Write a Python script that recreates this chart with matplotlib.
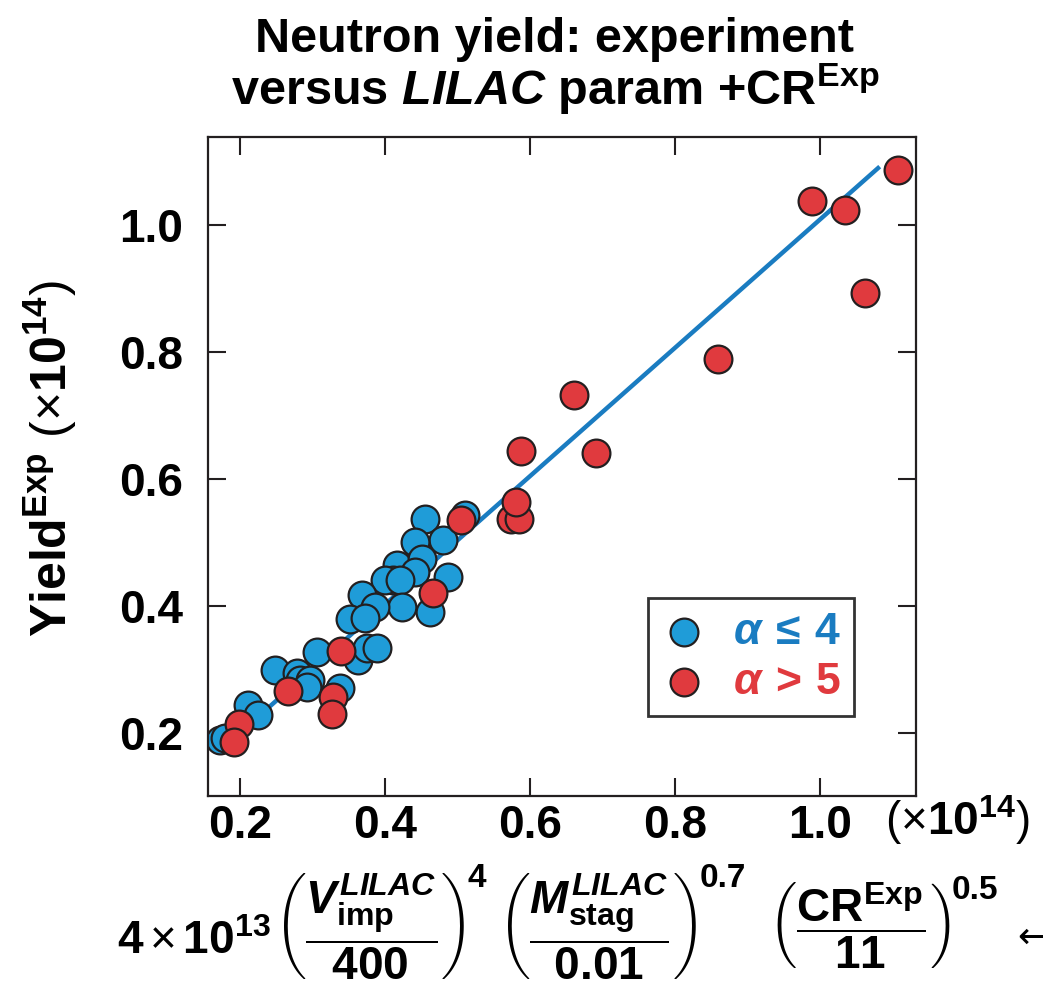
import matplotlib
matplotlib.use('Agg')
import matplotlib.pyplot as plt
from matplotlib.transforms import IdentityTransform

plt.rcParams['font.family'] = ['Liberation Sans', 'DejaVu Sans']
plt.rcParams['font.weight'] = 'bold'
plt.rcParams['mathtext.fontset'] = 'custom'
plt.rcParams['mathtext.rm'] = 'Liberation Sans:bold'
plt.rcParams['mathtext.it'] = 'Liberation Sans:bold:italic'
plt.rcParams['mathtext.bf'] = 'Liberation Sans:bold'
plt.rcParams['mathtext.cal'] = 'Liberation Sans:bold:italic'
plt.rcParams['mathtext.sf'] = 'Liberation Sans:normal'
plt.rcParams['mathtext.fallback'] = 'cm'

# data (x10^14)
blue_x = [0.455, 0.510, 0.480, 0.441, 0.417, 0.451, 0.487, 0.441, 0.411, 0.400, 0.421,
          0.423, 0.462, 0.368, 0.386, 0.352, 0.372, 0.363, 0.375, 0.389, 0.306, 0.248,
          0.279, 0.283, 0.297, 0.292, 0.338, 0.211, 0.225, 0.172, 0.179]
blue_y = [0.537, 0.543, 0.504, 0.501, 0.465, 0.474, 0.446, 0.454, 0.441, 0.441, 0.441,
          0.398, 0.391, 0.417, 0.398, 0.380, 0.381, 0.315, 0.334, 0.334, 0.328, 0.299,
          0.294, 0.283, 0.283, 0.272, 0.271, 0.244, 0.228, 0.189, 0.192]
red_x = [1.108, 0.989, 1.034, 1.062, 0.859, 0.661, 0.588, 0.691, 0.574, 0.585, 0.581,
         0.505, 0.466, 0.339, 0.266, 0.328, 0.327, 0.199, 0.192]
red_y = [1.087, 1.038, 1.024, 0.894, 0.790, 0.732, 0.644, 0.642, 0.537, 0.537, 0.564,
         0.535, 0.420, 0.329, 0.266, 0.257, 0.230, 0.215, 0.186]
fit_x = [0.17, 1.08]
fit_y = [0.17, 1.09]

ticks = [0.2, 0.4, 0.6, 0.8, 1.0]
tick_labels = ['0.2', '0.4', '0.6', '0.8', '1.0']

blue = '#1f9cd8'
blue_dark = '#1a7cc1'
red = '#e03a3e'
ink = '#231f20'

W, H = 1043, 992
fig = plt.figure(figsize=(W / 100, H / 100), dpi=100)
ax = fig.add_axes([0.1994, 0.1976, 0.6786, 0.6643])

ax.plot(fit_x, fit_y, color=blue_dark, lw=3.2, zorder=1)
ax.scatter(blue_x, blue_y, s=400, color=blue, edgecolor=ink, linewidth=1.6,
           zorder=2, label=r'$\alpha\,\leq\,4$')
ax.scatter(red_x, red_y, s=400, color=red, edgecolor=ink, linewidth=1.6,
           zorder=3, label=r'$\alpha\,>\,5$')

ax.set_xlim(0.156, 1.132)
ax.set_ylim(0.101, 1.139)
ax.set_xticks(ticks)
ax.set_xticklabels(tick_labels)
ax.set_yticks(ticks)
ax.set_yticklabels(tick_labels)
ax.tick_params(direction='in', length=13, width=1.5, color=ink, labelsize=33,
               top=True, right=True)
ax.tick_params(axis='x', pad=6)
ax.tick_params(axis='y', pad=18)
for sp in ax.spines.values():
    sp.set_linewidth(1.6)
    sp.set_color(ink)

leg = ax.legend(loc='upper right', bbox_to_anchor=(0.913, 0.30), fontsize=32,
                frameon=True, fancybox=False, edgecolor='black', handletextpad=0.6,
                borderpad=0.3, labelspacing=0.2, handlelength=1.0,
                borderaxespad=0)
leg.get_frame().set_linewidth(2)
for txt, c in zip(leg.get_texts(), [blue_dark, red]):
    txt.set_color(c)

fig.text(0.532, 1 - 52 / H, 'Neutron yield: experiment', ha='center', va='baseline',
         fontsize=35)
fig.text(0.532, 1 - 105 / H, r'versus $\mathcal{LILAC}$ param +CR$^{\mathbf{Exp}}$',
         ha='center', va='baseline', fontsize=35)

fig.text(0.048, 0.538, r'Yield$^{\mathrm{Exp}}$ $\mathsf{(×}10^{14}\mathsf{)}$',
         rotation=90, ha='center', va='center', fontsize=36)

fig.text(0.918, 0.1734, r'$\mathsf{(×}10^{14}\mathsf{)}$',
         ha='center', va='center', fontsize=33)

# formula below the x axis, laid out piece by piece
fig.canvas.draw()
rend = fig.canvas.get_renderer()


def put(s, x, y, size, va):
    t = fig.text(x, H - y, s, transform=IdentityTransform(), ha='left', va=va,
                 fontsize=size)
    return t.get_window_extent(rend).x1


x = put(r'$4\,\mathsf{×}\,10^{13}$', 117, 954, 33, 'baseline')
x = put(r'$\left(\dfrac{\mathit{V}^{\mathit{LILAC}}_{\mathrm{imp}}}{400}\right)$', x + 3, 926, 33, 'center')
x = put('4', x + 2, 863, 24, 'top')
x = put(r'$\left(\dfrac{\mathit{M}^{\mathit{LILAC}}_{\mathrm{stag}}}{0.01}\right)$', x + 12, 926, 33, 'center')
x = put('0.7', x + 2, 863, 24, 'top')
x = put(r'$\left(\dfrac{\mathrm{CR}^{\mathrm{Exp}}}{11}\right)$', x + 22, 926, 33, 'center')
x = put('0.5', x + 2, 875, 24, 'top')
fig.text(1017, H - 938, '←', transform=IdentityTransform(), ha='left', va='center',
         fontsize=26, fontweight='normal', family='DejaVu Sans')

fig.savefig('out.png', dpi=100)
